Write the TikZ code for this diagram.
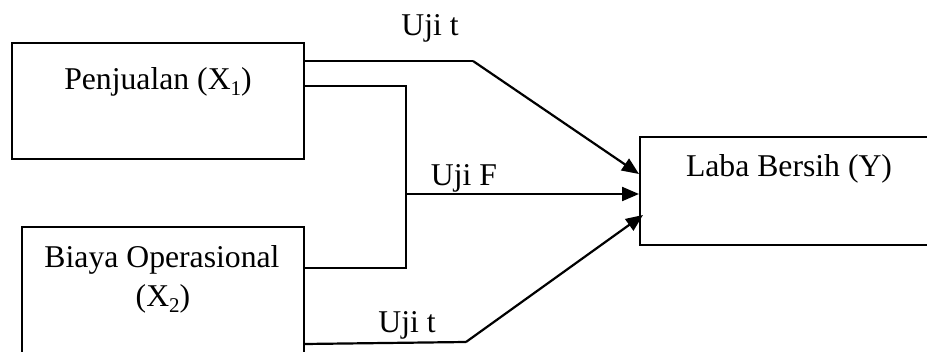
\documentclass[tikz,border=0pt]{standalone}
\usepackage{fontspec}
\setmainfont{Liberation Serif}
\usetikzlibrary{arrows.meta}
\newcommand{\mysub}[1]{\raisebox{-0.18em}{\fontsize{21}{21}\selectfont #1}}
\begin{document}
\begin{tikzpicture}[x=1pt,y=-1pt,
  box/.style={draw,line width=2pt,inner sep=0pt},
  lbl/.style={anchor=base,inner sep=0pt,font=\fontsize{31.7}{38}\selectfont},
  conn/.style={line width=2.2pt},
  arr/.style={conn,-{Triangle[length=17pt,width=14pt]}}]
\useasboundingbox (0,0) rectangle (927,352);
\clip (0,0) rectangle (927,352);
\node[box,minimum width=292pt,minimum height=116pt] (b1) at (158,101) {};
\node[box,minimum width=282pt,minimum height=150pt] (b2) at (163,302) {};
\node[box,minimum width=340pt,minimum height=108pt] (by) at (810,191) {};
\node[lbl] (t1) at (158,90) {Penjualan (X\mysub{1})};
\node[lbl] (t2) at (162,268) {Biaya Operasional};
\node[lbl] (t3) at (163,307) {(X\mysub{2})};
\node[lbl] (ty) at (789,177) {Laba Bersih (Y)};
\node[lbl] (u1) at (430,36) {Uji t};
\node[lbl] (uf) at (464,186) {Uji F};
\node[lbl] (u2) at (407,333) {Uji t};
\coordinate (k1) at (473,61);
\coordinate (k2) at (466,342);
\coordinate (j) at (406,194);
\draw[conn] (b1.east |- 0,61) -- (k1);
\draw[arr] (k1) -- (by.west |- 0,174);
\draw[conn] (b1.east |- 0,86) -| (j) |- (b2.east |- 0,268);
\draw[arr] (j) -- (by.west |- j);
\draw[conn] (b2.east |- 0,344) -- (k2);
\draw[arr] (k2) -- (643,215) coordinate (e2);
\end{tikzpicture}
\end{document}
